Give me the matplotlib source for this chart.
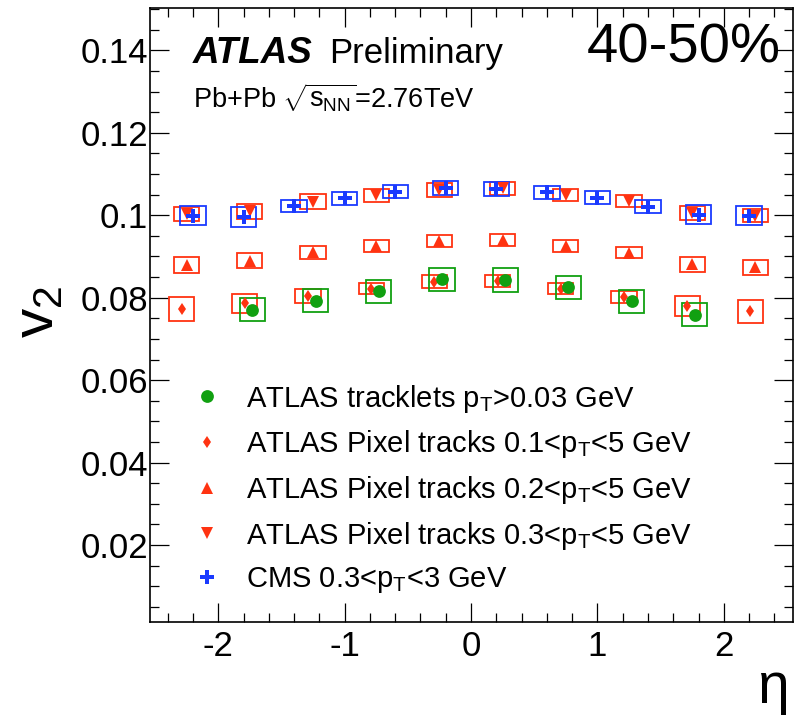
import numpy as np
import matplotlib
matplotlib.use("Agg")
from matplotlib import pyplot as plt
from matplotlib.ticker import MultipleLocator, FuncFormatter

plt.rcParams['font.family'] = ['Liberation Sans', 'DejaVu Sans']
plt.rcParams['mathtext.fontset'] = 'custom'
plt.rcParams['mathtext.rm'] = 'Liberation Sans'
plt.rcParams['mathtext.it'] = 'Liberation Sans:italic'
plt.rcParams['axes.unicode_minus'] = False

# eta bins
eta_atlas = np.array([-2.25, -1.75, -1.25, -0.75, -0.25, 0.25, 0.75, 1.25, 1.75, 2.25])
eta_trk = np.array([-1.75, -1.25, -0.75, -0.25, 0.25, 0.75, 1.25, 1.75])
eta_cms = np.array([-2.2, -1.8, -1.4, -1.0, -0.6, -0.2, 0.2, 0.6, 1.0, 1.4, 1.8, 2.2])

# v2 values and systematic half-heights
v2_trk = [0.0771, 0.0793, 0.0816, 0.0845, 0.0843, 0.0825, 0.0791, 0.0759]
sys_trk = [0.0028, 0.0028, 0.0028, 0.0028, 0.0028, 0.0028, 0.0028, 0.0028]

v2_pix01 = [0.0772, 0.0786, 0.0803, 0.0822, 0.0839, 0.0840, 0.0822, 0.0802, 0.0779, 0.0767]
sys_pix01 = [0.0029, 0.0024, 0.0017, 0.0013, 0.0015, 0.0015, 0.0013, 0.0014, 0.0024, 0.0028]

v2_pix02 = [0.0879, 0.0890, 0.0910, 0.0925, 0.0938, 0.0940, 0.0925, 0.0909, 0.0881, 0.0874]
sys_pix02 = [0.0020, 0.0018, 0.0016, 0.0015, 0.0015, 0.0014, 0.0014, 0.0013, 0.0018, 0.0018]

v2_pix03 = [0.1004, 0.1010, 0.1033, 0.1048, 0.1061, 0.1065, 0.1049, 0.1034, 0.1006, 0.0999]
sys_pix03 = [0.0017, 0.0018, 0.0018, 0.0016, 0.0017, 0.0015, 0.0015, 0.0014, 0.0017, 0.0016]

v2_cms = [0.0999, 0.0996, 0.1022, 0.1041, 0.1057, 0.1066, 0.1063, 0.1056, 0.1043, 0.1021, 0.1001, 0.0999]
sys_cms = [0.0023, 0.0024, 0.0015, 0.0016, 0.0016, 0.0016, 0.0017, 0.0016, 0.0016, 0.0016, 0.0023, 0.0023]

labels = [r"ATLAS tracklets $\mathregular{p_T}$>0.03 GeV",
          r"ATLAS Pixel tracks 0.1<$\mathregular{p_T}$<5 GeV",
          r"ATLAS Pixel tracks 0.2<$\mathregular{p_T}$<5 GeV",
          r"ATLAS Pixel tracks 0.3<$\mathregular{p_T}$<5 GeV",
          r"CMS 0.3<$\mathregular{p_T}$<3 GeV"]

green = '#11a011'
red = '#ff3311'
blue = '#1a3aff'

fig = plt.figure(figsize=(7.94, 7.15), dpi=100)
ax = fig.add_axes([150/794, 93/715, 642.7/794, 614/715])

series = [
    (eta_atlas - 0.04, v2_pix01, sys_pix01, red, 'd', 6.2, labels[1]),
    (eta_atlas, v2_pix02, sys_pix02, red, '^', 9, labels[2]),
    (eta_atlas, v2_pix03, sys_pix03, red, 'v', 9, labels[3]),
    (eta_trk + 0.02, v2_trk, sys_trk, green, 'o', 9.2, labels[0]),
    (eta_cms, v2_cms, sys_cms, blue, 'P', 9.5, labels[4]),
]

# systematic boxes first
for x, y, s, c, m, ms, lab in series:
    y = np.array(y)
    s = np.array(s)
    ax.bar(x, 2*s, width=0.2, bottom=y - s, fill=False, edgecolor=c,
           linewidth=1.3, zorder=2)

handles = {}
for x, y, s, c, m, ms, lab in series:
    h, = ax.plot(x, y, ls='none', marker=m, ms=ms, color=c, mec=c, mew=0,
                 label=lab, zorder=3)
    handles[lab] = h

ax.set_xlim(-2.54, 2.545)
ax.set_ylim(0.0013, 0.1503)

ax.xaxis.set_major_locator(MultipleLocator(1))
ax.xaxis.set_minor_locator(MultipleLocator(0.2))
ax.yaxis.set_major_locator(MultipleLocator(0.02))
ax.yaxis.set_minor_locator(MultipleLocator(0.005))
ax.yaxis.set_major_formatter(FuncFormatter(lambda v, p: '%g' % round(v, 4)))
ax.xaxis.set_major_formatter(FuncFormatter(lambda v, p: '%g' % round(v, 4)))

ax.tick_params(which='both', direction='in', top=True, right=True, width=0.9)
ax.tick_params(which='major', length=13.7, labelsize=25)
ax.tick_params(which='minor', length=6.8)
ax.tick_params(axis='x', which='major', pad=6)
ax.tick_params(axis='y', which='major', pad=1.5)
for sp in ax.spines.values():
    sp.set_linewidth(1.2)

ax.set_ylabel(r"$\mathregular{v_2}$", fontsize=42, labelpad=0)
ax.yaxis.set_label_coords(-0.133, 0.505)
ax.set_xlabel("η", fontsize=41)
ax.xaxis.set_label_coords(0.996, -0.064)
ax.xaxis.label.set_horizontalalignment('right')

ax.text(0.067, 0.91, "ATLAS", transform=ax.transAxes, fontsize=26.5,
        fontweight='bold', fontstyle='italic', va='baseline')
ax.text(0.278, 0.91, "Preliminary", transform=ax.transAxes, fontsize=25,
        va='baseline')
ax.text(0.067, 0.838, r"Pb+Pb $\sqrt{\mathregular{s_{NN}}}$=2.76TeV",
        transform=ax.transAxes, fontsize=19.5, va='baseline')
ax.text(0.982, 0.912, "40-50%", transform=ax.transAxes, fontsize=40.5,
        ha='right', va='baseline')

order = [labels[0], labels[1], labels[2], labels[3], labels[4]]
ax.legend([handles[l] for l in order], order, loc='upper left',
          bbox_to_anchor=(0.066, 0.39), frameon=False, fontsize=21,
          handlelength=1.0, handletextpad=0.85, labelspacing=0.47,
          borderpad=0, borderaxespad=0)

fig.savefig("out.png", dpi=100)
